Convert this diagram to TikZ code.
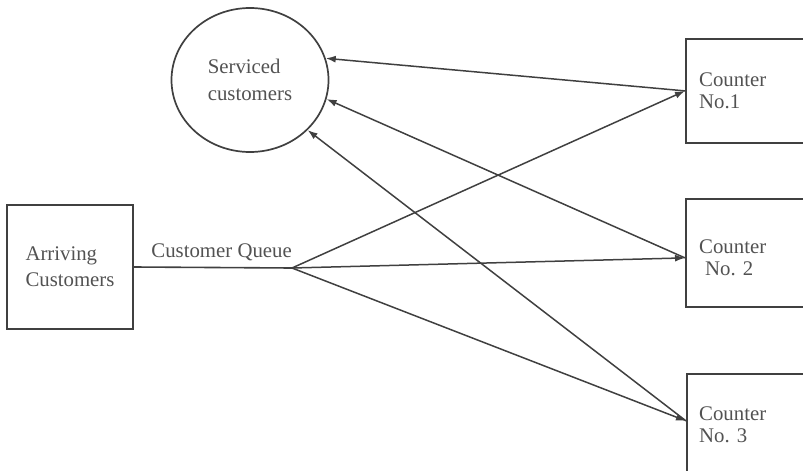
\documentclass[tikz,border=0pt]{standalone}
\usepackage{fontspec}
\setmainfont{Liberation Serif}
\usetikzlibrary{positioning,shapes.geometric,arrows.meta}
\definecolor{linegray}{gray}{0.25}
\definecolor{textgray}{gray}{0.32}
\tikzset{box/.style={draw=linegray,line width=1.8pt,rectangle,inner sep=0pt}}
\tikzset{lbl/.style={text=textgray,font=\fontsize{20.8}{22}\selectfont,align=left,inner sep=0pt}}
\tikzset{flow/.style={-{Latex[length=10pt,width=7pt]},draw=linegray,line width=1.5pt}}

\begin{document}
\begin{tikzpicture}[x=1pt,y=-1pt]
  \useasboundingbox (0,0) rectangle (803,471);
  \clip (0,0) rectangle (803,471);
  % source and sink
  \node[box,lbl,font=\fontsize{20.8}{26}\selectfont,minimum width=126pt,minimum height=124pt] (arr) at (70,267) {Arriving\\Customers};
  \node[ellipse,draw=linegray,line width=1.7pt,lbl,font=\fontsize{20.8}{27}\selectfont,minimum width=157pt,minimum height=144pt] (serv) at (250,80) {Serviced\\customers};
  % counters
  \node[box,minimum width=220pt,minimum height=104pt,anchor=north west] (c1) at (685,38) {};
  \node[box,minimum width=220pt,minimum height=108pt,anchor=north west] (c2) at (685,198) {};
  \node[box,minimum width=220pt,minimum height=120pt,anchor=north west] (c3) at (686,373) {};
  \node[lbl,right=14pt of c1.west] (t1) {Counter\\No.1};
  \node[lbl,right=14pt of c2.west,yshift=-5pt] (t2) {Counter\\\hspace*{6pt}No. 2};
  \node[lbl,right=13pt of c3.west,yshift=9pt] (t3) {Counter\\No. 3};
  % queue
  \coordinate (q) at (292,268);
  \draw[draw=linegray,line width=1.6pt] (arr.east) -- (q);
  \node[lbl,anchor=base east] (queue) at ([yshift=11pt]q) {Customer Queue};
  \draw[flow] (q) -- (c1.west);
  \draw[flow] (q) -- ([yshift=-5pt]c2.west);
  \draw[flow] (q) -- ([yshift=13pt]c3.west);
  \draw[flow] (c1.west) -- (serv.16);
  \draw[flow] ([yshift=-5pt]c2.west) -- (serv.-14);
  \draw[flow] ([yshift=13pt]c3.west) -- (serv.-41);
\end{tikzpicture}
\end{document}
